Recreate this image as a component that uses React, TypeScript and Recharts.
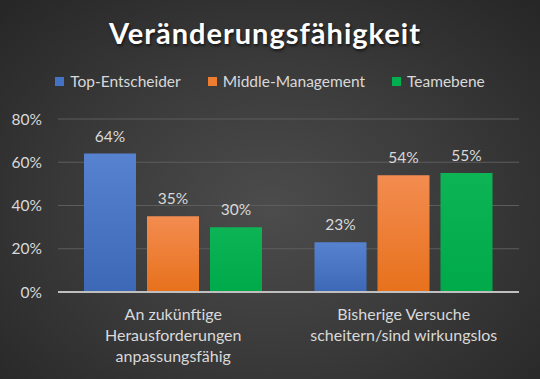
import React from 'react';
import { BarChart, Bar, XAxis, YAxis, CartesianGrid, Legend, LabelList } from 'recharts';

const categories = ['An zukünftige\nHerausforderungen\nanpassungsfähig', 'Bisherige Versuche\nscheitern/sind wirkungslos'];
const topEntscheider = [64, 23];
const middleManagement = [35, 54];
const teamebene = [30, 55];
const yTicks = [0, 20, 40, 60, 80];
const seriesNames = ['Top-Entscheider', 'Middle-Management', 'Teamebene'];

const data = categories.map((c, i) => ({
  name: c,
  top: topEntscheider[i],
  mid: middleManagement[i],
  team: teamebene[i],
}));

const FONT = 'Lato, "Open Sans", sans-serif';
const colors = ['#4472C4', '#ED7D31', '#00B050'];

const CatTick = (props: any) => {
  const { x, y, payload } = props;
  const lines = String(payload.value).split('\n');
  return (
    <g>
      {lines.map((l: string, i: number) => (
        <text key={i} x={x} y={y + 28 + i * 21} textAnchor="middle" fill="#d9d9d9" fontSize={16} fontFamily={FONT}>
          {l}
        </text>
      ))}
    </g>
  );
};

const LegendContent = () => (
  <div style={{ display: 'flex', justifyContent: 'center', gap: 27, fontFamily: FONT, fontSize: 15.5, color: '#d9d9d9', height: 20, lineHeight: '20px' }}>
    {seriesNames.map((n, i) => (
      <div key={n} style={{ display: 'flex', alignItems: 'center' }}>
        <span style={{ width: 9, height: 9, background: colors[i], display: 'inline-block', marginRight: 6 }} />
        <span>{n}</span>
      </div>
    ))}
  </div>
);

export default function App() {
  return (
    <div
      style={{
        position: 'absolute',
        left: 0,
        top: 0,
        width: 540,
        height: 379,
        background: 'radial-gradient(ellipse at 50% 55%, #4c4c4c 0%, #3a3a3a 50%, #262626 100%)',
        overflow: 'hidden',
      }}
    >
      <div
        style={{
          position: 'absolute',
          top: 15,
          left: -5,
          width: 540,
          textAlign: 'center',
          fontFamily: FONT,
          fontWeight: 700,
          fontSize: 29,
          letterSpacing: 1,
          color: '#ffffff',
          textShadow: '1px 2px 3px rgba(0,0,0,0.6)',
        }}
      >
        Veränderungsfähigkeit
      </div>
      <BarChart
        width={540}
        height={379}
        data={data}
        margin={{ top: 99, right: 21, bottom: 57, left: 0 }}
        barGap={11}
        barSize={52}
      >
        <defs>
          <linearGradient id="gBlue" x1="0" y1="0" x2="0" y2="1">
            <stop offset="0%" stopColor="#5682d0" />
            <stop offset="100%" stopColor="#3c68b6" />
          </linearGradient>
          <linearGradient id="gOrange" x1="0" y1="0" x2="0" y2="1">
            <stop offset="0%" stopColor="#f38c50" />
            <stop offset="100%" stopColor="#e7711c" />
          </linearGradient>
          <linearGradient id="gGreen" x1="0" y1="0" x2="0" y2="1">
            <stop offset="0%" stopColor="#0cb455" />
            <stop offset="100%" stopColor="#00a94a" />
          </linearGradient>
        </defs>
        <CartesianGrid vertical={false} stroke="#5c5c5c" strokeWidth={1} />
        <XAxis
          dataKey="name"
          height={30}
          tick={<CatTick />}
          tickLine={false}
          tickSize={0}
          tickMargin={0}
          axisLine={{ stroke: '#bfbfbf', strokeWidth: 2 }}
          interval={0}
        />
        <YAxis
          width={58}
          domain={[0, 80]}
          ticks={yTicks}
          tickFormatter={(v: number) => `${v}%`}
          tick={{ fill: '#d9d9d9', fontSize: 15.5, fontFamily: FONT }}
          tickLine={false}
          tickSize={0}
          tickMargin={16}
          axisLine={false}
        />
        <Legend verticalAlign="top" height={20} content={<LegendContent />} wrapperStyle={{ top: 71, left: 0, width: 540 }} />
        <Bar dataKey="top" name={seriesNames[0]} fill="url(#gBlue)" isAnimationActive={false}>
          <LabelList dataKey="top" position="top" offset={12} formatter={(v: any) => `${v}%`} fill="#d9d9d9" fontSize={15.5} fontFamily={FONT} />
        </Bar>
        <Bar dataKey="mid" name={seriesNames[1]} fill="url(#gOrange)" isAnimationActive={false}>
          <LabelList dataKey="mid" position="top" offset={12} formatter={(v: any) => `${v}%`} fill="#d9d9d9" fontSize={15.5} fontFamily={FONT} />
        </Bar>
        <Bar dataKey="team" name={seriesNames[2]} fill="url(#gGreen)" isAnimationActive={false}>
          <LabelList dataKey="team" position="top" offset={12} formatter={(v: any) => `${v}%`} fill="#d9d9d9" fontSize={15.5} fontFamily={FONT} />
        </Bar>
      </BarChart>
    </div>
  );
}
